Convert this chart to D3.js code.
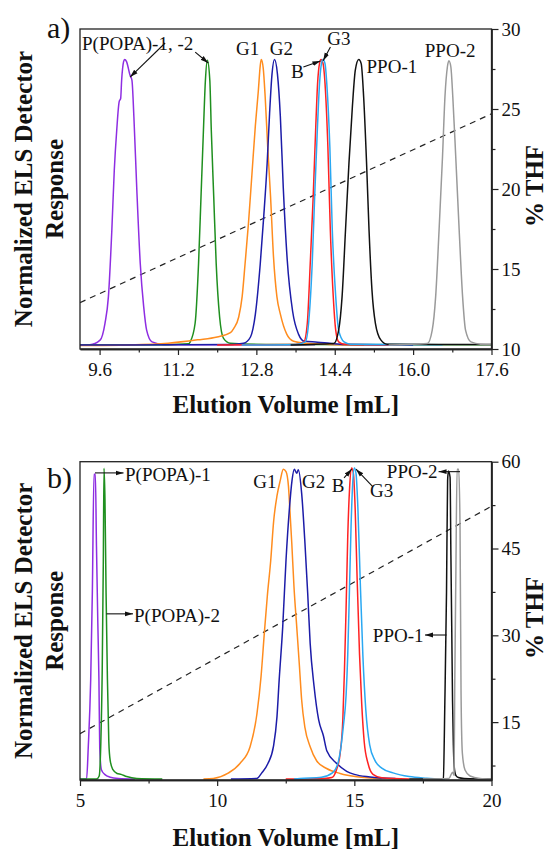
<!DOCTYPE html>
<html><head><meta charset="utf-8">
<script src="https://cdn.jsdelivr.net/npm/d3@7/dist/d3.min.js"></script>
<style>
html,body{margin:0;padding:0;background:#fff;}
svg{display:block;}
text{font-family:"Liberation Serif","Times New Roman",serif;fill:#111;}
</style></head><body>
<svg id="chart" width="550" height="849"></svg>
<script>
// ---------------- DATA ----------------
const seriesNames = ["P(POPA)-1","P(POPA)-2","G1","G2","B","G3","PPO-1","PPO-2"];

// Panel a: [elution volume mL, normalized response]
const aPOPA1 = [[9.2,0.003],[9.40,0.003],[9.61,0.019],[9.71,0.078],[9.78,0.171],[9.85,0.404],[9.90,0.614],[9.95,0.754],[10.00,0.853],[10.03,0.864],[10.05,0.928],[10.09,0.993],[10.11,1.0],[10.15,0.993],[10.22,0.946],[10.26,0.928],[10.30,0.80],[10.36,0.544],[10.43,0.287],[10.50,0.136],[10.56,0.054],[10.67,0.013],[10.90,0.004],[12.0,0.003],[14.0,0.003]];
const aPOPA2 = [[9.2,0.002],[11.0,0.003],[11.42,0.006],[11.45,0.013],[11.55,0.078],[11.62,0.287],[11.67,0.52],[11.72,0.754],[11.76,0.928],[11.80,0.998],[11.85,0.928],[11.88,0.754],[11.93,0.52],[11.98,0.287],[12.05,0.10],[12.13,0.025],[12.27,0.008],[13.0,0.004],[17.6,0.003]];
const aG1 = [[9.2,0.0],[10.2,0.002],[11.0,0.008],[11.6,0.02],[12.0,0.03],[12.27,0.045],[12.34,0.06],[12.44,0.10],[12.51,0.171],[12.57,0.287],[12.64,0.43],[12.71,0.6],[12.78,0.77],[12.84,0.89],[12.88,0.98],[12.90,1.0],[12.94,0.97],[12.98,0.87],[13.03,0.70],[13.09,0.52],[13.15,0.31],[13.22,0.17],[13.29,0.11],[13.42,0.04],[13.56,0.015],[13.8,0.008],[14.3,0.004],[15.0,0.002]];
const aG2 = [[9.2,0.002],[11.2,0.003],[12.3,0.004],[12.54,0.008],[12.68,0.03],[12.78,0.11],[12.88,0.287],[12.95,0.45],[13.02,0.636],[13.07,0.812],[13.12,0.95],[13.17,1.0],[13.23,0.95],[13.29,0.8],[13.35,0.55],[13.43,0.3],[13.54,0.12],[13.66,0.04],[13.78,0.015],[14.05,0.012],[14.3,0.008],[14.6,0.004],[16.0,0.002]];
const aB = [[12.0,0.002],[13.6,0.004],[13.77,0.013],[13.84,0.078],[13.90,0.287],[13.96,0.52],[14.01,0.754],[14.05,0.917],[14.09,0.987],[14.12,1.0],[14.16,0.987],[14.21,0.893],[14.26,0.695],[14.31,0.404],[14.37,0.171],[14.42,0.054],[14.48,0.013],[14.59,0.005],[15.5,0.003]];
const aG3 = [[12.5,0.002],[13.6,0.004],[13.80,0.013],[13.87,0.085],[13.94,0.287],[13.99,0.52],[14.04,0.734],[14.09,0.917],[14.13,0.987],[14.16,1.0],[14.20,0.987],[14.24,0.91],[14.30,0.695],[14.35,0.404],[14.42,0.171],[14.48,0.054],[14.59,0.013],[14.72,0.005],[16.6,0.003]];
const aPPO1 = [[13.5,0.002],[14.38,0.007],[14.48,0.054],[14.55,0.171],[14.62,0.404],[14.69,0.637],[14.76,0.835],[14.82,0.963],[14.89,1.0],[14.94,0.986],[14.99,0.87],[15.05,0.637],[15.10,0.404],[15.16,0.194],[15.23,0.078],[15.34,0.02],[15.47,0.005],[16.5,0.004],[17.6,0.004]];
const aPPO2 = [[15.5,0.002],[16.29,0.007],[16.39,0.054],[16.46,0.171],[16.53,0.404],[16.60,0.66],[16.65,0.87],[16.70,0.975],[16.73,0.996],[16.77,0.975],[16.81,0.87],[16.87,0.66],[16.94,0.404],[17.01,0.171],[17.07,0.054],[17.18,0.013],[17.38,0.005],[17.6,0.004]];
const aGradient = [[9.2,12.9],[17.6,24.7]];   // % THF

// Panel b
const bPOPA1 = [[5.0,0.0],[5.24,0.0],[5.30,0.1],[5.39,0.32],[5.45,0.6],[5.51,0.98],[5.56,0.98],[5.60,0.75],[5.65,0.5],[5.69,0.32],[5.72,0.1],[5.78,0.03],[5.9,0.015],[6.1,0.006],[6.4,0.002],[7.0,0.0]];
const bPOPA2 = [[5.0,0.0],[5.6,0.0],[5.70,0.01],[5.76,0.12],[5.81,0.35],[5.85,0.7],[5.875,0.999],[5.91,0.9],[5.95,0.6],[6.0,0.32],[6.05,0.12],[6.1,0.06],[6.2,0.03],[6.35,0.018],[6.5,0.015],[6.7,0.008],[7.07,0.002],[8.0,0.0]];
const bG1 = [[9.5,0.0],[9.86,0.002],[10.4,0.019],[10.83,0.05],[11.2,0.104],[11.45,0.21],[11.6,0.33],[11.72,0.47],[11.83,0.59],[11.95,0.70],[12.06,0.83],[12.18,0.91],[12.30,0.96],[12.41,0.996],[12.51,0.988],[12.60,0.94],[12.63,0.897],[12.72,0.758],[12.80,0.618],[12.90,0.49],[13.0,0.361],[13.08,0.254],[13.2,0.165],[13.39,0.104],[13.63,0.058],[13.99,0.034],[14.48,0.018],[15.09,0.0075],[16.0,0.002]];
const bG2 = [[10.5,0.0],[11.44,0.002],[11.62,0.019],[11.85,0.05],[12.05,0.104],[12.18,0.2],[12.26,0.318],[12.39,0.49],[12.51,0.704],[12.63,0.865],[12.73,0.961],[12.81,0.996],[12.90,0.983],[12.96,0.994],[13.08,0.918],[13.2,0.758],[13.3,0.597],[13.39,0.436],[13.53,0.30],[13.7,0.19],[13.87,0.14],[14.0,0.09],[14.36,0.05],[14.72,0.025],[15.0,0.015],[15.57,0.007],[16.5,0.002]];
const bB = [[12.5,0.0],[13.9,0.002],[14.18,0.005],[14.35,0.03],[14.48,0.08],[14.58,0.19],[14.64,0.35],[14.7,0.55],[14.76,0.78],[14.83,0.94],[14.9,1.0],[14.965,0.983],[15.03,0.87],[15.1,0.65],[15.19,0.4],[15.27,0.24],[15.36,0.12],[15.5,0.05],[15.68,0.015],[16.0,0.004],[17.0,0.0]];
const bG3 = [[12.8,0.0],[13.02,0.002],[13.8,0.006],[14.2,0.02],[14.4,0.05],[14.6,0.17],[14.7,0.27],[14.76,0.4],[14.82,0.6],[14.88,0.81],[14.94,0.95],[15.0,1.0],[15.06,0.983],[15.13,0.87],[15.21,0.65],[15.31,0.4],[15.42,0.22],[15.56,0.11],[15.75,0.06],[16.0,0.035],[16.41,0.02],[17.0,0.008],[17.64,0.003],[18.3,0.0]];
const bPPO1 = [[17.0,0.0],[18.19,0.0],[18.245,0.003],[18.30,0.25],[18.36,0.6],[18.40,0.96],[18.43,0.99],[18.49,0.97],[18.52,0.72],[18.55,0.49],[18.58,0.25],[18.61,0.11],[18.64,0.04],[18.7,0.012],[18.79,0.005],[19.0,0.002],[20.0,0.0]];
const bPPO2 = [[17.5,0.0],[18.45,0.002],[18.58,0.022],[18.635,0.012],[18.66,0.3],[18.70,0.65],[18.745,0.996],[18.805,0.996],[18.853,0.811],[18.89,0.275],[18.938,0.083],[19.035,0.029],[19.218,0.01],[19.58,0.002],[20.0,0.0]];
const bGradient = [[5,13.0],[20,52.3]];

// Ticks
const xTicksA = [9.6, 11.2, 12.8, 14.4, 16.0, 17.6];
const xTickLabelsA = ["9.6","11.2","12.8","14.4","16.0","17.6"];
const xMinorA = [10.4, 12.0, 13.6, 15.2, 16.8];
const thfTicksA = [10, 15, 20, 25, 30];
const thfMinorA = [12.5, 17.5, 22.5, 27.5];
const xTicksB = [5, 10, 15, 20];
const xTickLabelsB = ["5","10","15","20"];
const xMinorB = [7.5, 12.5, 17.5];
const thfTicksB = [15, 30, 45, 60];
const thfMinorB = [7.5, 22.5, 37.5, 52.5];

// ---------------- STYLE ----------------
const colors = ["#8e2de2","#1f8f1f","#ff8c1e","#1c1ca8","#ff2222","#2aa8f2","#111111","#9a9a9a"];
const FONT_TICK = 19, FONT_ANN = 19, FONT_TITLE = 25, FONT_LETTER = 30;

const svg = d3.select("#chart");
const defs = svg.append("defs");
defs.append("marker").attr("id","arr").attr("viewBox","0 0 10 10")
  .attr("refX",10).attr("refY",5).attr("markerWidth",8).attr("markerHeight",8)
  .attr("markerUnits","userSpaceOnUse").attr("orient","auto")
  .append("path").attr("d","M0,2 L10,5 L0,8 Z").attr("fill","#111");

function drawPanel(p){
  const L = 80, R = 491.5;
  const x = d3.scaleLinear().domain(p.xDomain).range([L, R]);
  const y = d3.scaleLinear().domain(p.yDomain).range([p.bottom, p.top]);
  const t = d3.scaleLinear().domain(p.thfDomain).range([p.bottom, p.top]);
  const g = svg.append("g");
  const cid = "clip" + p.id;
  defs.append("clipPath").attr("id", cid).append("rect")
    .attr("x", L).attr("y", p.top).attr("width", R - L).attr("height", p.bottom - p.top);

  const plot = g.append("g").attr("clip-path", `url(#${cid})`);
  // gradient
  plot.append("path").datum(p.gradient)
    .attr("d", d3.line().x(d => x(d[0])).y(d => t(d[1])))
    .attr("fill","none").attr("stroke","#222").attr("stroke-width",1.2)
    .attr("stroke-dasharray","6,5");
  const line = d3.line().x(d => x(d[0])).y(d => y(d[1])).curve(d3.curveMonotoneX);
  p.traces.forEach((tr, i) => {
    plot.append("path").datum(tr).attr("d", line)
      .attr("fill","none").attr("stroke", colors[i]).attr("stroke-width",1.5)
      .attr("stroke-linejoin","round");
  });

  // frame
  g.append("rect").attr("x", L).attr("y", p.top).attr("width", R - L).attr("height", p.bottom - p.top)
    .attr("fill","none").attr("stroke","#222").attr("stroke-width",1.3);

  // bottom axis
  const xa = g.append("g").attr("transform", `translate(0,${p.bottom})`)
    .call(d3.axisBottom(x).tickValues(p.xTicks).tickFormat((d,i) => p.xLabels[i])
      .tickSize(6).tickSizeOuter(0).tickPadding(7.5));
  xa.append("g").call(d3.axisBottom(x).tickValues(p.xMinor).tickFormat("").tickSize(3.5).tickSizeOuter(0));
  // right axis
  const ya = g.append("g").attr("transform", `translate(${R},0)`)
    .call(d3.axisRight(t).tickValues(p.thfTicks).tickSize(7).tickSizeOuter(0).tickPadding(3));
  ya.append("g").call(d3.axisRight(t).tickValues(p.thfMinor).tickFormat("").tickSize(4).tickSizeOuter(0));
  [xa, ya].forEach(a => {
    a.selectAll("path.domain").attr("stroke","#222").attr("stroke-width",1.3);
    a.selectAll("line").attr("stroke","#222").attr("stroke-width",1.2);
    a.selectAll("text").attr("font-size", FONT_TICK).attr("font-family","Liberation Serif").attr("fill","#111");
  });

  // annotations
  p.labels.forEach(a => {
    g.append("text").attr("x", x(a[1])).attr("y", y(a[2])).attr("text-anchor", a[3])
      .attr("font-size", FONT_ANN).text(a[0]);
  });
  p.arrows.forEach(a => {
    g.append("line").attr("x1", x(a[0])).attr("y1", y(a[1])).attr("x2", x(a[2])).attr("y2", y(a[3]))
      .attr("stroke","#111").attr("stroke-width",1.1).attr("marker-end","url(#arr)");
  });

  // titles
  const mid = (p.top + p.bottom) / 2;
  g.append("text").attr("x", (L + R) / 2).attr("y", p.titleY).attr("text-anchor","middle")
    .attr("font-size", FONT_TITLE).attr("font-weight","bold").text("Elution Volume [mL]");
  g.append("text").attr("transform", `translate(32,${mid}) rotate(-90)`).attr("text-anchor","middle")
    .attr("font-size", FONT_TITLE).attr("font-weight","bold").text("Normalized ELS Detector");
  g.append("text").attr("transform", `translate(62.5,${mid}) rotate(-90)`).attr("text-anchor","middle")
    .attr("font-size", FONT_TITLE).attr("font-weight","bold").text("Response");
  g.append("text").attr("transform", `translate(543,${mid - 3}) rotate(-90)`).attr("text-anchor","middle")
    .attr("font-size", FONT_TITLE).attr("font-weight","bold").text("% THF");
  g.append("text").attr("x", 47).attr("y", p.letterY).attr("font-size", FONT_LETTER).text(p.letter);
}

drawPanel({
  id: "a", top: 29, bottom: 349, xDomain: [9.2, 17.6], yDomain: [-0.012, 1.107], thfDomain: [10, 30],
  traces: [aPOPA1, aPOPA2, aG1, aG2, aB, aG3, aPPO1, aPPO2], gradient: aGradient,
  xTicks: xTicksA, xLabels: xTickLabelsA, xMinor: xMinorA, thfTicks: thfTicksA, thfMinor: thfMinorA,
  labels: [["P(POPA)-1, -2", 9.241, 1.033, "start"], ["G1", 12.62, 1.016, "middle"], ["G2", 13.31, 1.016, "middle"],
           ["G3", 14.486, 1.051, "middle"], ["B", 13.638, 0.935, "middle"], ["PPO-1", 15.049, 0.953, "start"],
           ["PPO-2", 16.756, 1.009, "middle"]],
  arrows: [[10.938, 1.058, 10.222, 0.939], [11.552, 1.026, 11.818, 0.988], [14.312, 1.044, 14.163, 0.996],
           [13.76, 0.974, 14.108, 0.995]],
  letter: "a)", letterY: 38, titleY: 413
});

drawPanel({
  id: "b", top: 461.7, bottom: 780, xDomain: [5, 20], yDomain: [-0.003, 1.02], thfDomain: [5, 60],
  traces: [bPOPA1, bPOPA2, bG1, bG2, bB, bG3, bPPO1, bPPO2], gradient: bGradient,
  xTicks: xTicksB, xLabels: xTickLabelsB, xMinor: xMinorB, thfTicks: thfTicksB, thfMinor: thfMinorB,
  labels: [["P(POPA)-1", 6.64, 0.958, "start"], ["P(POPA)-2", 6.969, 0.505, "start"], ["G1", 12.164, 0.935, "end"],
           ["G2", 13.093, 0.935, "start"], ["B", 14.406, 0.924, "middle"], ["G3", 15.572, 0.907, "start"],
           ["PPO-2", 18.033, 0.967, "end"], ["PPO-1", 17.523, 0.441, "end"]],
  arrows: [[5.547, 0.984, 6.586, 0.984], [5.966, 0.531, 6.932, 0.531], [14.625, 0.968, 14.905, 0.996],
           [15.68, 0.939, 15.062, 0.996], [18.853, 0.988, 18.07, 0.988], [18.361, 0.463, 17.577, 0.463]],
  letter: "b)", letterY: 488, titleY: 845.5
});
</script></body></html>
